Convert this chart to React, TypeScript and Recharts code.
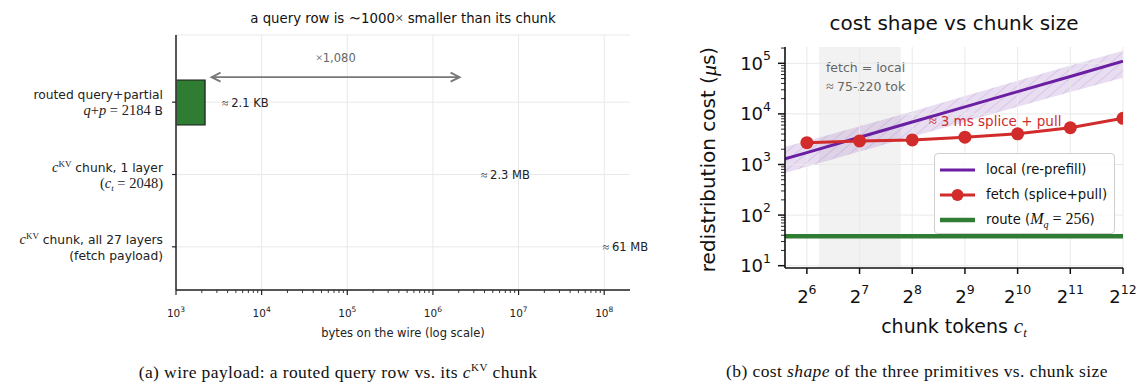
import React from "react";
import {
  BarChart,
  Bar,
  Cell,
  LabelList,
  XAxis,
  YAxis,
  CartesianGrid,
  ReferenceLine,
  ReferenceArea,
  ReferenceDot,
  ComposedChart,
  Line,
  Area,
  Legend,
  Label,
} from "recharts";

const SANS = "'DejaVu Sans', 'Noto Sans', sans-serif";
const SERIF = "'Liberation Serif', 'DejaVu Serif', serif";

// ---------- (a) wire payload ----------
const payloadRows = ["query", "chunkOneLayer", "chunkAllLayers"];
const payloadBytes = [2184, 2.3e6, 61e6];
const payloadValueLabels = ["2.1 KB", "2.3 MB", "61 MB"];
const bytesMajorTicks = [1e3, 1e4, 1e5, 1e6, 1e7, 1e8];
const bytesMinorTicks = bytesMajorTicks
  .slice(0, -1)
  .flatMap((d) => [2, 3, 4, 5, 6, 7, 8, 9].map((m) => m * d));
const ratioFrom = 2600;
const ratioTo = 2.05e6;
const ARROW_RISE = 25; // arrow sits above the query row

// ---------- (b) cost shape ----------
const chunkTokens = [48, 64, 128, 256, 512, 1024, 2048, 4096];
const localCost = [1300, 1720, 3450, 6900, 13800, 27500, 55000, 110000];
const localLow = [680, 900, 1800, 3550, 7000, 13800, 27000, 52000];
const localHigh = [2250, 2900, 5700, 11200, 22500, 45000, 90000, 178000];
const fetchCost = [null, 2700, 2920, 3060, 3470, 4040, 5320, 8170];
const routeCost = [38, 38, 38, 38, 38, 38, 38, 38];
const tokenTicks = [64, 128, 256, 512, 1024, 2048, 4096];
const tokenTickExps = ["6", "7", "8", "9", "10", "11", "12"];
const costMajorTicks = [10, 100, 1e3, 1e4, 1e5];
const costMinorTicks = [10, 100, 1e3, 1e4, 1e5]
  .flatMap((d) => [2, 3, 4, 5, 6, 7, 8, 9].map((m) => m * d))
  .filter((v) => v <= 2.1e5);
const crossoverRange = [75, 220];
const legendOrder = ["local", "fetch", "route"];

const payloadData = payloadRows.map((row, i) => ({
  row,
  bytes: payloadBytes[i],
  label: payloadValueLabels[i],
}));

const costData = chunkTokens.map((c, i) => ({
  c,
  local: localCost[i],
  band: [localLow[i], localHigh[i]],
  fetch: fetchCost[i],
  route: routeCost[i],
}));

const LOCAL_COLOR = "#6a1fa2";
const FETCH_COLOR = "#d22b2b";
const ROUTE_COLOR = "#2e7d32";
const GRID = "#e9e9e9";

// ≈ drawn from the serif face (math symbol)
const approx = <tspan fontFamily={SERIF}>≈ </tspan>;

// ----- tick renderers -----
function BytesTick({ x, y, payload }: any) {
  const axisY = y - 9;
  const major = bytesMajorTicks.includes(payload.value);
  const exp = Math.round(Math.log10(payload.value));
  return (
    <g>
      <line x1={x} x2={x} y1={axisY} y2={axisY + (major ? 5 : 3)} stroke="#222" strokeWidth={major ? 1.2 : 0.9} />
      {major && (
        <text x={x} y={axisY + 27} textAnchor="middle" fontSize={10.5} fontFamily={SANS} fill="#222">
          10<tspan dy={-5} fontSize={7.5}>{exp}</tspan>
        </text>
      )}
    </g>
  );
}

function rowLabel(index: number) {
  const ser = { fontFamily: SERIF };
  if (index === 0) {
    return [
      <tspan key="a">routed query+partial</tspan>,
      <tspan key="b">
        <tspan {...ser} fontSize={14.5} fontStyle="italic">q</tspan>
        <tspan {...ser} fontSize={14.5}>+</tspan>
        <tspan {...ser} fontSize={14.5} fontStyle="italic">p</tspan>
        <tspan {...ser} fontSize={14.5}> = 2184</tspan> B
      </tspan>,
    ];
  }
  const first = (
    <tspan key="a">
      <tspan {...ser} fontSize={14.5} fontStyle="italic">c</tspan>
      <tspan {...ser} dy={-5} fontSize={9}>KV</tspan>
      <tspan dy={5}>{index === 1 ? " chunk, 1 layer" : " chunk, all 27 layers"}</tspan>
    </tspan>
  );
  const second =
    index === 1 ? (
      <tspan key="b" {...ser} fontSize={14.5}>
        (<tspan fontStyle="italic">c</tspan>
        <tspan dy={3} fontSize={9} fontStyle="italic">t</tspan>
        <tspan dy={-3}> = 2048)</tspan>
      </tspan>
    ) : (
      <tspan key="b">(fetch payload)</tspan>
    );
  return [first, second];
}

function RowTick({ x, y, index }: any) {
  const [l1, l2] = rowLabel(index);
  return (
    <g fontFamily={SANS} fontSize={12.3} fill="#222">
      <text x={x} y={y - 3} textAnchor="end">{l1}</text>
      <text x={x} y={y + 13} textAnchor="end">{l2}</text>
    </g>
  );
}

function ValueLabel({ x, y, width, height, value }: any) {
  return (
    <text
      x={x + width + 17}
      y={y + height / 2}
      dominantBaseline="central"
      fontSize={11.5}
      fontFamily={SANS}
      fill="#222"
    >
      {approx}
      {value}
    </text>
  );
}

function RatioArrow(props: any) {
  const { x1, x2 } = props;
  const y1 = props.y1 - ARROW_RISE;
  const c = "#777";
  return (
    <g>
      <line x1={x1} x2={x2} y1={y1} y2={y1} stroke={c} strokeWidth={1.8} />
      <polyline points={`${x1 + 9},${y1 - 4.5} ${x1},${y1} ${x1 + 9},${y1 + 4.5}`} fill="none" stroke={c} strokeWidth={1.8} />
      <polyline points={`${x2 - 9},${y1 - 4.5} ${x2},${y1} ${x2 - 9},${y1 + 4.5}`} fill="none" stroke={c} strokeWidth={1.8} />
      <text x={(x1 + x2) / 2} y={y1 - 15} textAnchor="middle" fontSize={11.5} fontFamily={SANS} fill="#666">
        <tspan fontFamily={SERIF} fontSize={13}>×</tspan>1,080
      </text>
    </g>
  );
}

function TokenTick({ x, y, index }: any) {
  const axisY = y - 10;
  return (
    <g>
      <line x1={x} x2={x} y1={axisY} y2={axisY + 6} stroke="#111" strokeWidth={1.5} />
      <text x={x} y={axisY + 35} textAnchor="middle" fontSize={18} fontFamily={SANS} fill="#111">
        2<tspan dy={-9} fontSize={12.5}>{tokenTickExps[index]}</tspan>
      </text>
    </g>
  );
}

function CostTick({ x, y, payload }: any) {
  const axisX = x + 14;
  const major = costMajorTicks.includes(payload.value);
  const exp = Math.round(Math.log10(payload.value));
  return (
    <g>
      <line x1={axisX - (major ? 7 : 4)} x2={axisX} y1={y} y2={y} stroke="#111" strokeWidth={major ? 1.5 : 0.9} />
      {major && (
        <text x={x} y={y + 6.5} textAnchor="end" fontSize={18} fontFamily={SANS} fill="#111">
          10<tspan dy={-9.5} fontSize={12.5}>{exp}</tspan>
        </text>
      )}
    </g>
  );
}

function legendLabel(key: string) {
  if (key === "local") return "local (re-prefill)";
  if (key === "fetch") return "fetch (splice+pull)";
  return (
    <span>
      route (
      <span style={{ fontFamily: SERIF, fontStyle: "italic", fontSize: 16 }}>M</span>
      <sub style={{ fontFamily: SERIF, fontStyle: "italic", fontSize: 10 }}>q</sub>
      <span style={{ fontFamily: SERIF, fontSize: 16 }}> = 256</span>)
    </span>
  );
}

function CostLegend({ payload }: any) {
  const items = legendOrder
    .map((k) => (payload || []).find((p: any) => p.dataKey === k))
    .filter(Boolean);
  return (
    <div
      style={{
        width: 181,
        height: 81,
        border: "1.5px solid #cfcfcf",
        borderRadius: 4,
        background: "rgba(255,255,255,0.85)",
        fontFamily: SANS,
        fontSize: 13.2,
        color: "#111",
        paddingTop: 3,
        boxSizing: "border-box",
        whiteSpace: "nowrap",
      }}
    >
      {items.map((p: any) => (
        <div key={p.dataKey} style={{ display: "flex", alignItems: "center", height: 25 }}>
          <svg width={51} height={20} style={{ flex: "none" }}>
            <line
              x1={5}
              x2={40}
              y1={10}
              y2={10}
              stroke={p.color}
              strokeWidth={p.dataKey === "route" ? 4.5 : 3}
            />
            {p.dataKey === "fetch" && <circle cx={22.5} cy={10} r={6} fill={p.color} />}
          </svg>
          <span>{legendLabel(p.dataKey)}</span>
        </div>
      ))}
    </div>
  );
}

function CostAxisLabel({ viewBox }: any) {
  const cx = viewBox.x + 68;
  const cy = viewBox.y + viewBox.height / 2 + 2;
  return (
    <text
      x={cx}
      y={cy}
      transform={`rotate(-90 ${cx} ${cy})`}
      textAnchor="middle"
      dominantBaseline="central"
      fontSize={20}
      fontFamily={SANS}
      fill="#111"
    >
      redistribution cost (<tspan fontFamily={SERIF} fontStyle="italic" fontSize={22}>μ</tspan>s)
    </text>
  );
}

function CrossoverLabel({ viewBox }: any) {
  const x = viewBox.x + 7;
  const y = viewBox.y + 25;
  return (
    <text x={x} y={y} fontSize={12.5} fontFamily={SANS} fill="#666">
      <tspan x={x}>fetch = local</tspan>
      <tspan x={x} dy={18.5}>
        <tspan fontFamily={SERIF} fontSize={14}>≈ </tspan>75-220 tok
      </tspan>
    </text>
  );
}

function SpliceLabel({ viewBox }: any) {
  return (
    <text x={viewBox.x} y={viewBox.y + 5} fontSize={13.5} fontFamily={SANS} fill={FETCH_COLOR}>
      <tspan fontFamily={SERIF} fontSize={15}>≈ </tspan>3 ms splice + pull
    </text>
  );
}

function WirePayloadChart() {
  return (
    <BarChart
      width={700}
      height={350}
      data={payloadData}
      layout="vertical"
      margin={{ top: 35, right: 70, left: 0, bottom: 0 }}
    >
      <CartesianGrid vertical={false} stroke={GRID} />
      {bytesMajorTicks.map((t) => (
        <ReferenceLine key={t} x={t} stroke={GRID} strokeWidth={1} />
      ))}
      <XAxis
        type="number"
        dataKey="bytes"
        scale="log"
        domain={[1e3, 2e8]}
        allowDataOverflow
        ticks={[...bytesMajorTicks, ...bytesMinorTicks]}
        interval={0}
        tick={<BytesTick />}
        tickLine={false}
        tickSize={5}
        tickMargin={4}
        height={60}
        axisLine={{ stroke: "#222", strokeWidth: 1.5 }}
      >
        <Label
          value="bytes on the wire (log scale)"
          position="insideBottom"
          offset={13}
          style={{ fontFamily: SANS, fontSize: 11.5, fill: "#222" }}
        />
      </XAxis>
      <YAxis
        type="category"
        dataKey="row"
        width={176}
        padding={{ top: 31, bottom: 7 }}
        tick={<RowTick />}
        tickSize={4}
        tickMargin={9}
        tickLine={{ stroke: "#222", strokeWidth: 1.2 }}
        axisLine={{ stroke: "#222", strokeWidth: 1.5 }}
        interval={0}
      />
      <Bar dataKey="bytes" barSize={45} isAnimationActive={false}>
        {payloadData.map((d, i) => (
          <Cell
            key={d.row}
            fill={i === 0 ? ROUTE_COLOR : "transparent"}
            stroke={i === 0 ? "#1b1b1b" : "none"}
            strokeWidth={1.2}
          />
        ))}
        <LabelList dataKey="label" content={<ValueLabel />} />
      </Bar>
      <ReferenceLine
        segment={[
          { x: ratioFrom, y: payloadRows[0] },
          { x: ratioTo, y: payloadRows[0] },
        ]}
        ifOverflow="visible"
        shape={<RatioArrow />}
      />
    </BarChart>
  );
}

function CostShapeChart() {
  return (
    <ComposedChart width={496} height={350} data={costData} margin={{ top: 47, right: 13, left: 0, bottom: 0 }}>
      <defs>
        <pattern id="localHatch" width="7" height="7" patternUnits="userSpaceOnUse" patternTransform="rotate(50)">
          <rect width="7" height="7" fill={LOCAL_COLOR} fillOpacity={0.15} />
          <line x1="0" y1="0" x2="0" y2="7" stroke={LOCAL_COLOR} strokeOpacity={0.22} strokeWidth={1.2} />
        </pattern>
      </defs>
      <ReferenceArea
        x1={crossoverRange[0]}
        x2={crossoverRange[1]}
        fill="#8c8c8c"
        fillOpacity={0.11}
        stroke="none"
        label={<CrossoverLabel />}
      />
      {tokenTicks.map((t) => (
        <ReferenceLine key={"x" + t} x={t} stroke={GRID} />
      ))}
      {costMajorTicks.map((t) => (
        <ReferenceLine key={"y" + t} y={t} stroke={GRID} />
      ))}
      <XAxis
        type="number"
        dataKey="c"
        scale="log"
        domain={[48, 4096]}
        allowDataOverflow
        ticks={tokenTicks}
        interval={0}
        tick={<TokenTick />}
        tickLine={false}
        tickSize={6}
        tickMargin={4}
        height={82}
        axisLine={{ stroke: "#111", strokeWidth: 1.6 }}
      >
        <Label
          position="insideTop"
          content={({ viewBox }: any) => (
            <text
              x={viewBox.x + viewBox.width / 2}
              y={viewBox.y + 65}
              textAnchor="middle"
              fontSize={19}
              fontFamily={SANS}
              fill="#111"
            >
              chunk tokens <tspan fontFamily={SERIF} fontStyle="italic" fontSize={21}>c</tspan>
              <tspan dy={4} fontSize={13} fontFamily={SERIF} fontStyle="italic">t</tspan>
            </text>
          )}
        />
      </XAxis>
      <YAxis
        type="number"
        scale="log"
        domain={[9, 2.1e5]}
        allowDataOverflow
        ticks={[...costMajorTicks, ...costMinorTicks]}
        interval={0}
        tick={<CostTick />}
        tickLine={false}
        tickSize={7}
        tickMargin={7}
        width={145}
        axisLine={{ stroke: "#111", strokeWidth: 1.6 }}
      >
        <Label content={<CostAxisLabel />} />
      </YAxis>
      <Area
        dataKey="band"
        type="linear"
        stroke="none"
        fill="url(#localHatch)"
        fillOpacity={1}
        legendType="none"
        isAnimationActive={false}
      />
      <Line
        dataKey="local"
        name="local (re-prefill)"
        stroke={LOCAL_COLOR}
        strokeWidth={3}
        dot={false}
        isAnimationActive={false}
      />
      <Line
        dataKey="fetch"
        name="fetch (splice+pull)"
        stroke={FETCH_COLOR}
        strokeWidth={3}
        dot={{ r: 6.5, fill: FETCH_COLOR, stroke: FETCH_COLOR, strokeWidth: 0 }}
        isAnimationActive={false}
      />
      <Line
        dataKey="route"
        name="route"
        stroke={ROUTE_COLOR}
        strokeWidth={4.5}
        dot={false}
        isAnimationActive={false}
      />
      <ReferenceDot x={318} y={7400} r={0} ifOverflow="visible" label={<SpliceLabel />} />
      <Legend
        layout="vertical"
        align="center"
        verticalAlign="middle"
        content={<CostLegend />}
        wrapperStyle={{ left: 294, top: 153, width: 181 }}
      />
    </ComposedChart>
  );
}

const captionStyle: React.CSSProperties = {
  position: "absolute",
  width: 440,
  top: 361,
  textAlign: "center",
  fontFamily: SERIF,
  fontSize: 17.5,
  letterSpacing: 0.4,
  color: "#111",
  whiteSpace: "nowrap",
};

export default function App() {
  return (
    <div
      style={{
        position: "absolute",
        left: 0,
        top: 0,
        width: 1136,
        height: 386,
        background: "#fff",
        overflow: "hidden",
      }}
    >
      <div
        style={{
          position: "absolute",
          left: 176,
          width: 454,
          top: 9,
          textAlign: "center",
          fontFamily: SANS,
          fontSize: 13.3,
          color: "#111",
        }}
      >
        a query row is <span style={{ fontFamily: SERIF, fontSize: 15 }}>∼</span>1000
        <span style={{ fontFamily: SERIF, fontSize: 15 }}>×</span> smaller than its chunk
      </div>
      <div
        style={{
          position: "absolute",
          left: 785,
          width: 338,
          top: 11,
          textAlign: "center",
          fontFamily: SANS,
          fontSize: 20,
          color: "#111",
        }}
      >
        cost shape vs chunk size
      </div>
      <div style={{ position: "absolute", left: 0, top: 0 }}>
        <WirePayloadChart />
      </div>
      <div style={{ position: "absolute", left: 640, top: 0 }}>
        <CostShapeChart />
      </div>
      <div style={{ ...captionStyle, left: 118 }}>
        (a) wire payload: a routed query row vs. its <i>c</i>
        <sup style={{ fontSize: 11 }}>KV</sup> chunk
      </div>
      <div style={{ ...captionStyle, left: 697 }}>
        (b) cost <i>shape</i> of the three primitives vs. chunk size
      </div>
    </div>
  );
}
